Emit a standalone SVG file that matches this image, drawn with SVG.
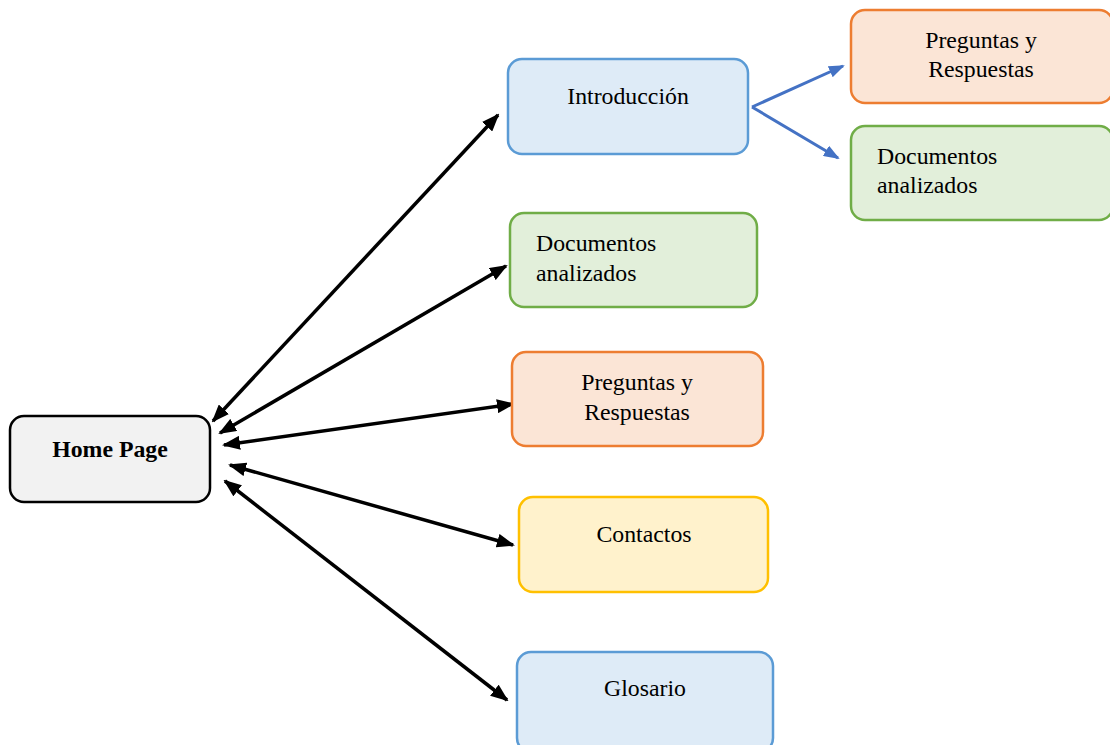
<svg xmlns="http://www.w3.org/2000/svg" width="1110" height="745" viewBox="0 0 1110 745">
<style>
.box{stroke-width:2.5}
.blue{fill:#deebf7;stroke:#5b9bd5}
.green{fill:#e2efda;stroke:#70ad47}
.orange{fill:#fbe5d6;stroke:#ed7d31}
.yellow{fill:#fff2cc;stroke:#ffc000}
.home{fill:#f2f2f2;stroke:#000}
text{font-family:"Liberation Serif","Times New Roman",serif;font-size:23.8px;fill:#000}
.c{text-anchor:middle}
.b{font-weight:bold}
.k{stroke:#000;stroke-width:3.5;fill:none}
.bl{stroke:#4472c4;stroke-width:3;fill:none}
</style>
<defs>
<marker id="ak" markerUnits="userSpaceOnUse" viewBox="0 0 18 14" refX="16" refY="7" markerWidth="18" markerHeight="14" orient="auto-start-reverse"><path d="M0,0 L18,7 L0,14 Z" fill="#000"/></marker>
<marker id="ab" markerUnits="userSpaceOnUse" viewBox="0 0 16 12" refX="14" refY="6" markerWidth="16" markerHeight="12" orient="auto"><path d="M0,0 L16,6 L0,12 Z" fill="#4472c4"/></marker>
</defs>
<rect width="1110" height="745" fill="#fff"/>
<g id="connectors">
<line class="k" x1="213" y1="421" x2="498" y2="115" marker-start="url(#ak)" marker-end="url(#ak)"/>
<line class="k" x1="220" y1="433" x2="506" y2="266" marker-start="url(#ak)" marker-end="url(#ak)"/>
<line class="k" x1="224" y1="445" x2="513" y2="404" marker-start="url(#ak)" marker-end="url(#ak)"/>
<line class="k" x1="230" y1="465" x2="513" y2="545" marker-start="url(#ak)" marker-end="url(#ak)"/>
<line class="k" x1="225" y1="481" x2="507" y2="700" marker-start="url(#ak)" marker-end="url(#ak)"/>
<line class="bl" x1="752" y1="107" x2="843" y2="66" marker-end="url(#ab)"/>
<line class="bl" x1="752" y1="107" x2="838" y2="158" marker-end="url(#ab)"/>
</g>
<g id="home">
<rect class="box home" x="10" y="416" width="200" height="86" rx="14"/>
<text class="c b" x="110" y="457">Home Page</text>
</g>
<g id="intro">
<rect class="box blue" x="508" y="59" width="240" height="95" rx="14"/>
<text class="c" x="628" y="104">Introducción</text>
</g>
<g id="docs">
<rect class="box green" x="510" y="213" width="247" height="94" rx="14"/>
<text x="536" y="251">Documentos</text>
<text x="536" y="281">analizados</text>
</g>
<g id="preguntas">
<rect class="box orange" x="512" y="352" width="251" height="94" rx="14"/>
<text class="c" x="637" y="390">Preguntas y</text>
<text class="c" x="637" y="420">Respuestas</text>
</g>
<g id="contactos">
<rect class="box yellow" x="519" y="497" width="249" height="95" rx="14"/>
<text class="c" x="644" y="542">Contactos</text>
</g>
<g id="glosario">
<rect class="box blue" x="517" y="652" width="256" height="100" rx="14"/>
<text class="c" x="645" y="696">Glosario</text>
</g>
<g id="preguntas2">
<rect class="box orange" x="851" y="10" width="262" height="93" rx="14"/>
<text class="c" x="981" y="48">Preguntas y</text>
<text class="c" x="981" y="77">Respuestas</text>
</g>
<g id="docs2">
<rect class="box green" x="851" y="126" width="262" height="94" rx="14"/>
<text x="877" y="164">Documentos</text>
<text x="877" y="193">analizados</text>
</g>
</svg>
